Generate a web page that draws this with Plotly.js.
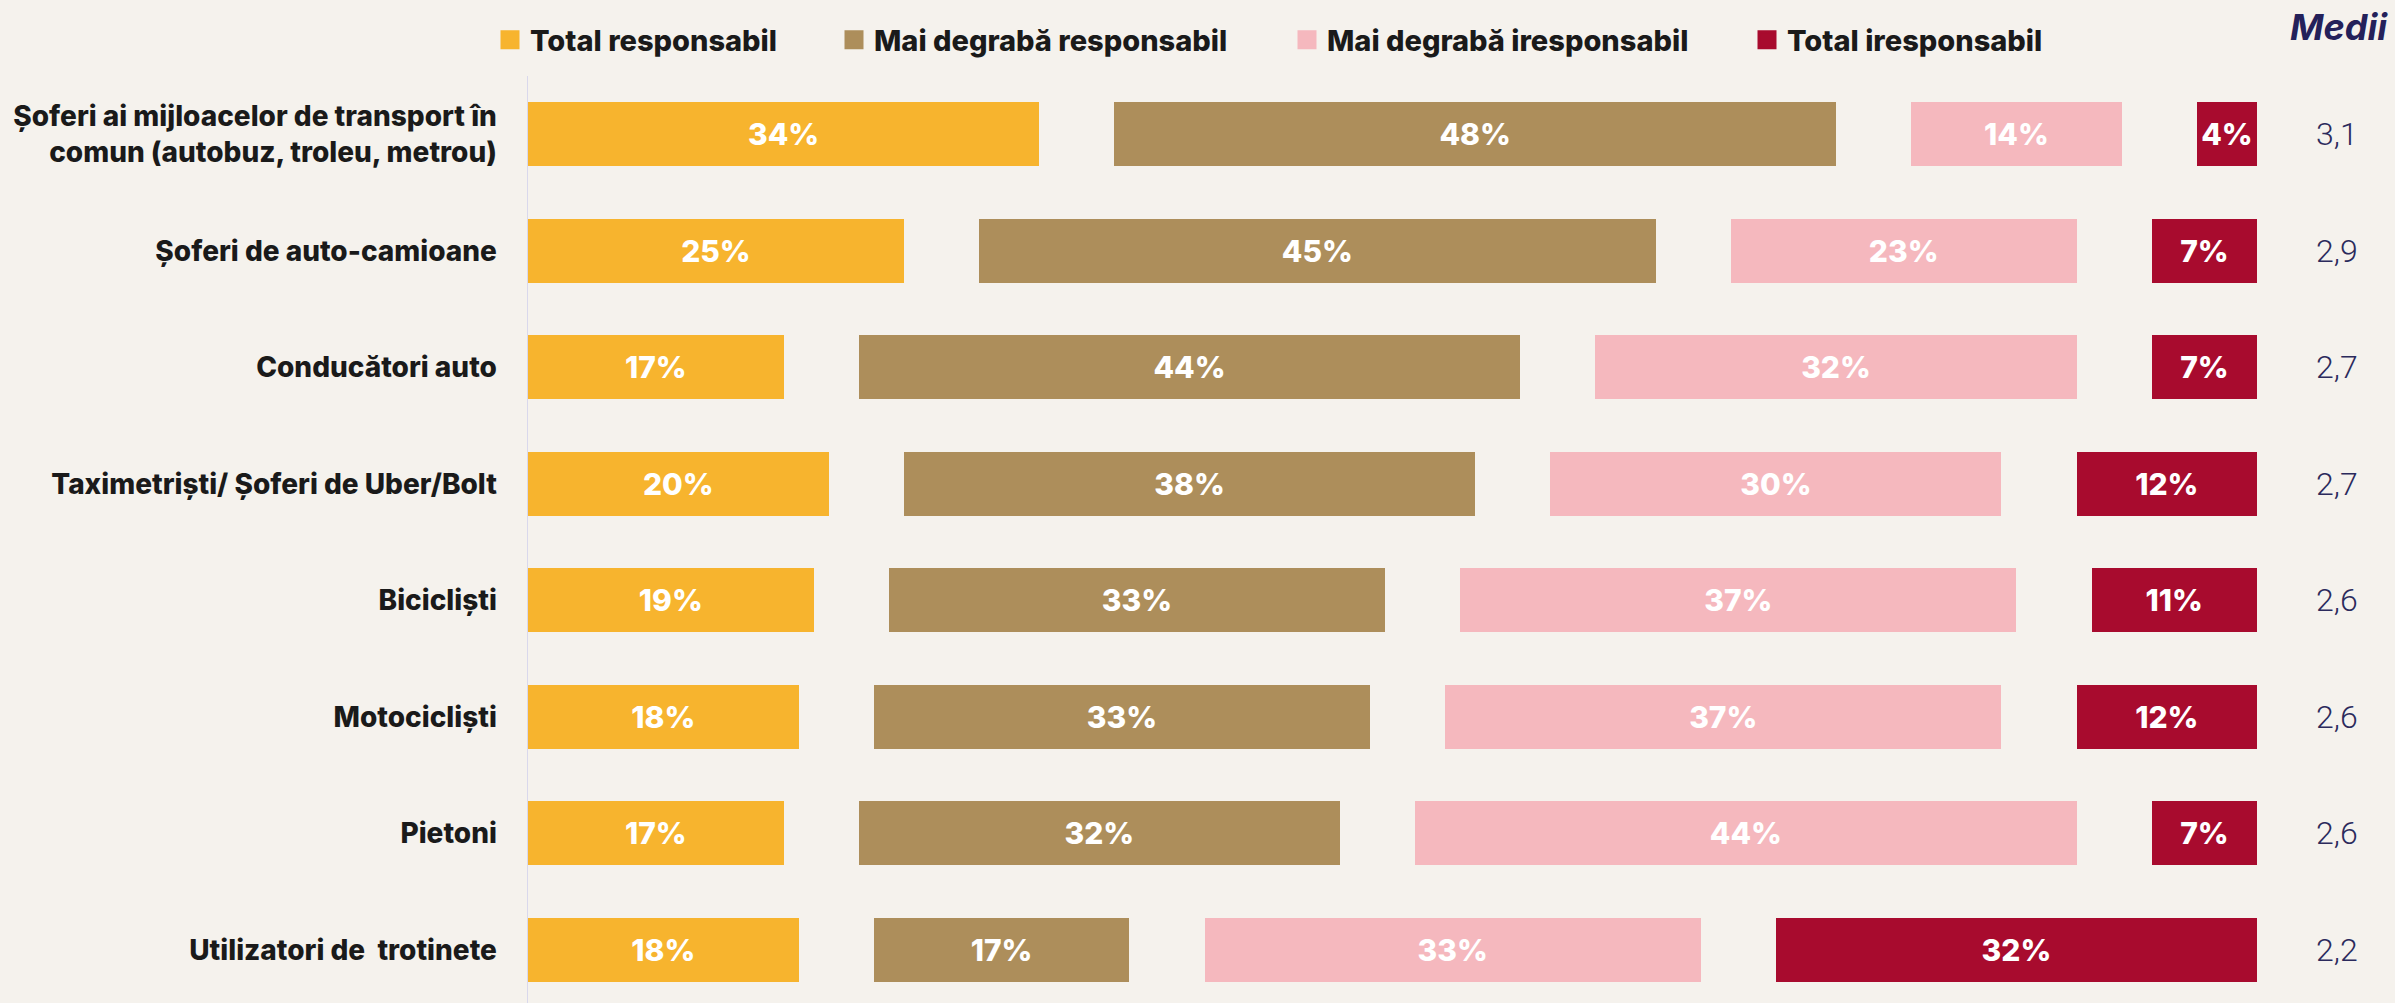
<!DOCTYPE html>
<html>
<head>
<meta charset="utf-8">
<script src="https://cdn.plot.ly/plotly-3.0.1.min.js"></script>
<style>
  html, body { margin: 0; padding: 0; background: #F5F2ED; }
  #chart { width: 2395px; height: 1003px; }
</style>
</head>
<body>
<div id="chart"></div>
<script>
// ---- Data ----
const categories = [
  "Șoferi ai mijloacelor de transport în<br>comun (autobuz, troleu, metrou)",
  "Șoferi de auto-camioane",
  "Conducători auto",
  "Taximetriști/ Șoferi de Uber/Bolt",
  "Bicicliști",
  "Motocicliști",
  "Pietoni",
  "Utilizatori de  trotinete"
];
const seriesNames = ["Total responsabil", "Mai degrabă responsabil", "Mai degrabă iresponsabil", "Total iresponsabil"];
const totalResponsabil       = [34, 25, 17, 20, 19, 18, 17, 18];
const maiDegrabaResponsabil  = [48, 45, 44, 38, 33, 33, 32, 17];
const maiDegrabaIresponsabil = [14, 23, 32, 30, 37, 37, 44, 33];
const totalIresponsabil      = [4, 7, 7, 12, 11, 12, 7, 32];
const medii = ["3,1", "2,9", "2,7", "2,7", "2,6", "2,6", "2,6", "2,2"];
const mediiTitle = "Medii";

// ---- Style ----
const colors = ["#F7B42E", "#AD8E5B", "#F5B8BE", "#A80B2E"];
const GAP = 5;          // visual spacing between segments, in axis units
const FONT = "Inter, 'Noto Sans', sans-serif";
const W = 2395, H = 1003;
const ML = 528, MR = W - 2257, MT = 76;

const seriesValues = [totalResponsabil, maiDegrabaResponsabil, maiDegrabaIresponsabil, totalIresponsabil];
const traces = [];
seriesValues.forEach((vals, i) => {
  traces.push({
    type: "bar", orientation: "h",
    y: categories, x: vals,
    name: seriesNames[i],
    showlegend: false,
    marker: { color: colors[i] },
    text: vals.map(v => v + "%"),
    textposition: "inside",
    insidetextanchor: "middle",
    constraintext: "none",
    textfont: { family: FONT, size: 30, color: "#FFFFFF", weight: 800 },
    hoverinfo: "x+y+name"
  });
  if (i < seriesValues.length - 1) {
    traces.push({
      type: "bar", orientation: "h",
      y: categories, x: categories.map(() => GAP),
      marker: { color: "rgba(0,0,0,0)" },
      showlegend: false, hoverinfo: "skip", textposition: "none"
    });
  }
});

// legend entries (one legend per item for exact placement)
const legendLeft = [502, 846, 1299, 1759];
const legendIds = ["legend", "legend2", "legend3", "legend4"];
seriesNames.forEach((n, i) => {
  traces.push({
    type: "scatter", mode: "markers",
    x: [null], y: [null],
    name: n,
    legend: legendIds[i],
    marker: { symbol: "square", size: 16, color: colors[i], line: { color: colors[i], width: 3 } },
    hoverinfo: "skip"
  });
});

const annotations = categories.map((c, i) => ({
  xref: "paper", yref: "y",
  x: (2337 - ML) / (W - ML - MR), y: c,
  text: medii[i],
  showarrow: false, xanchor: "center", yanchor: "middle",
  font: { family: "Roboto, sans-serif", size: 32, color: "#2B2A5C", weight: 300 }
}));
annotations.push({
  xref: "paper", yref: "paper",
  x: (2390 - ML) / (W - ML - MR), y: (H - 27) / (H - MT),
  text: "<b><i>" + mediiTitle + "</i></b>",
  showarrow: false, xanchor: "right", yanchor: "middle",
  font: { family: FONT, size: 36, color: "#24215A" }
});

const layout = {
  width: W, height: H,
  paper_bgcolor: "#F5F2ED", plot_bgcolor: "#F5F2ED",
  margin: { l: ML, r: MR, t: MT, b: 0, pad: 0 },
  barmode: "stack",
  bargap: 0.45,
  xaxis: { range: [0, 100 + 3 * GAP], visible: false, fixedrange: true },
  yaxis: {
    type: "category",
    categoryorder: "array", categoryarray: categories,
    range: [7.457, -0.5],
    showline: true, linecolor: "#D9D8EC", linewidth: 1.5,
    showgrid: false, zeroline: false,
    ticks: "", ticklabelstandoff: 24,
    tickfont: { family: FONT, size: 28, color: "#1A1A1A", weight: 800 }
  },
  annotations: annotations,
  showlegend: true
};
legendIds.forEach((id, i) => {
  layout[id] = {
    xref: "container", yref: "container",
    x: (legendLeft[i] - 12) / W, y: 1 - 40 / H,
    xanchor: "left", yanchor: "middle",
    orientation: "h",
    bgcolor: "rgba(0,0,0,0)", borderwidth: 0,
    itemwidth: 30,
    font: { family: FONT, size: 29, color: "#1A1A1A", weight: 800 }
  };
});

Plotly.newPlot("chart", traces, layout, { displayModeBar: false, staticPlot: true });
</script>
</body>
</html>
